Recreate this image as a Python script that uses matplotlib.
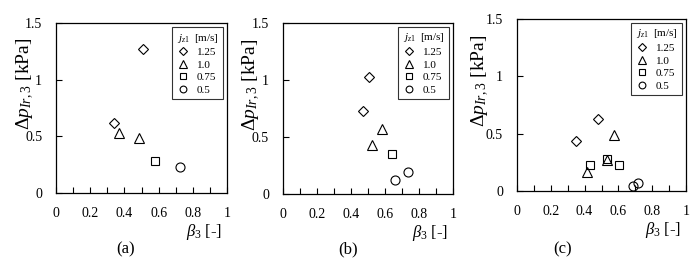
import matplotlib
matplotlib.use("Agg")
import matplotlib.pyplot as plt

plt.rcParams['font.family'] = 'Liberation Serif'
plt.rcParams['mathtext.fontset'] = 'custom'
plt.rcParams['mathtext.rm'] = 'Liberation Serif'
plt.rcParams['mathtext.it'] = 'Liberation Serif:italic'

# legend values of j_z1 [m/s]
series_labels = ['1.25', '1.0', '0.75', '0.5']
markers = ['D', '^', 's', 'o']
marker_sizes = [5, 7.5, 5.5, 6.5]

# panel (a): beta_3 and dp values for each j_z1
a_beta = [[0.507, 0.341], [0.370, 0.487], [0.579], [0.725]]
a_dp = [[1.268, 0.620], [0.532, 0.488], [0.280], [0.227]]

# panel (b)
b_beta = [[0.508, 0.472], [0.585, 0.522], [0.642], [0.661, 0.738]]
b_dp = [[1.027, 0.724], [0.569, 0.429], [0.350], [0.120, 0.193]]

# panel (c)
c_beta = [[0.480, 0.348], [0.571, 0.533, 0.415], [0.431, 0.531, 0.606], [0.685, 0.715]]
c_dp = [[0.627, 0.432], [0.488, 0.270, 0.168], [0.226, 0.279, 0.226], [0.046, 0.070]]

# data, tag, axes rect, tag x, ylabel x (axes coords)
panels = [
    (a_beta, a_dp, '(a)', [0.0806, 0.2634, 0.246, 0.649], 0.180, -0.115),
    (b_beta, b_dp, '(b)', [0.4072, 0.2595, 0.2446, 0.654], 0.501, -0.125),
    (c_beta, c_dp, '(c)', [0.7439, 0.2710, 0.2432, 0.6577], 0.810, -0.155),
]

fig = plt.figure(figsize=(6.95, 2.62), dpi=100)

for beta, dp, tag, rect, tag_x, ylab_x in panels:
    ax = fig.add_axes(rect)
    for i in range(len(series_labels)):
        ax.plot(beta[i], dp[i], linestyle='none', marker=markers[i],
                markersize=marker_sizes[i], markerfacecolor='none',
                markeredgecolor='black', markeredgewidth=0.8,
                label=series_labels[i])
    ax.set_xlim(0, 1)
    ax.set_ylim(0, 1.5)
    ax.set_xticks([0, 0.2, 0.4, 0.6, 0.8, 1.0])
    ax.set_xticklabels(['0', '0.2', '0.4', '0.6', '0.8', '1'])
    ax.set_xticks([0.1, 0.3, 0.5, 0.7, 0.9], minor=True)
    ax.set_yticks([0, 0.5, 1.0, 1.5])
    ax.set_yticklabels(['0', '0.5', '1', '1.5'])
    ax.tick_params(which='both', direction='in', length=4, width=0.8,
                   labelsize=10, pad=10)
    for s in ax.spines.values():
        s.set_linewidth(0.9)
    ax.set_xlabel(r'$\beta_3$ [-]', fontsize=12)
    ax.xaxis.set_label_coords(0.97, -0.17)
    ax.xaxis.label.set_horizontalalignment('right')
    ax.set_ylabel(r'$\Delta p_{Ir,3}$ [kPa]', fontsize=14)
    ax.yaxis.set_label_coords(ylab_x, 0.64)
    leg = ax.legend(loc='upper right', bbox_to_anchor=(0.975, 0.975),
                    title=r'$j_{z1}$  [m/s]', fontsize=8, title_fontsize=8,
                    frameon=True, fancybox=False, markerscale=0.75,
                    handlelength=1.2, handletextpad=0.6, labelspacing=0.25,
                    borderpad=0.4, borderaxespad=0.0)
    leg.get_frame().set_edgecolor('black')
    leg.get_frame().set_linewidth(0.8)
    leg._legend_box.align = 'left'
    fig.text(tag_x, 0.05, tag, ha='center', va='center', fontsize=12)

fig.savefig('out.png', dpi=100)
